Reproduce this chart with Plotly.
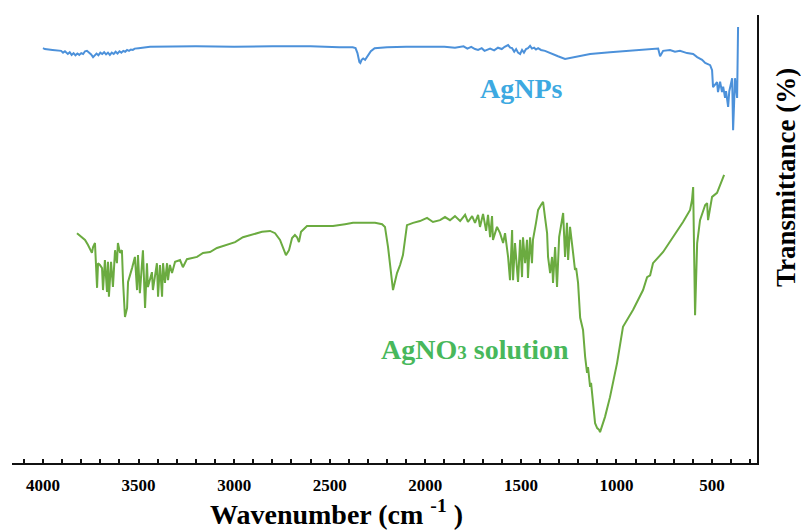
import plotly.graph_objects as go

# ---- AgNPs (blue) spectrum ----
agnp_wn = [4000, 3990, 3950, 3905, 3895, 3885, 3870, 3860, 3850, 3840, 3830, 3820, 3810, 3800,
           3790, 3780, 3770, 3760, 3748, 3738, 3730, 3720, 3710, 3700, 3690, 3680, 3670, 3660,
           3650, 3640, 3630, 3620, 3610, 3600, 3590, 3580, 3570, 3560, 3550, 3540, 3530, 3520,
           3500, 3470, 3440, 3200, 3000, 2800, 2600, 2450, 2380, 2365, 2355, 2345, 2340, 2333,
           2325, 2315, 2300, 2285, 2265, 2200, 2100, 2000, 1900, 1845, 1800, 1780, 1760, 1740,
           1724, 1705, 1690, 1661, 1640, 1620, 1600, 1585, 1567, 1556, 1546, 1535, 1525, 1515,
           1504, 1494, 1484, 1473, 1463, 1452, 1442, 1431, 1421, 1410, 1395, 1374, 1337, 1306,
           1269, 1217, 1138, 1034, 929, 824, 782, 772, 756, 720, 694, 668, 631, 599,
           578, 552, 536, 510, 500, 495, 484, 474, 469, 458, 448, 442, 432, 427,
           416, 410, 395, 390, 380, 369, 364]
agnp_t = [92.6, 92.4, 92.2, 92.0, 91.6, 91.9, 91.3, 91.7, 91.1, 91.5, 91.0, 91.4, 91.1, 91.5,
          91.3, 91.9, 92.0, 91.7, 91.2, 90.6, 91.0, 91.4, 91.0, 91.6, 91.3, 91.7, 91.2, 91.6,
          91.1, 91.6, 91.3, 91.8, 91.4, 91.9, 91.6, 92.0, 91.8, 92.2, 92.0, 92.3, 92.2, 92.5,
          92.6, 92.8, 92.9, 93.0, 92.9, 93.0, 93.0, 92.8, 92.8, 92.6, 91.5, 89.5, 89.3, 90.0,
          90.3, 90.0, 91.0, 91.9, 92.6, 92.8, 92.9, 92.9, 92.9, 92.7, 93.0, 92.5, 92.9, 92.4,
          92.2, 92.6, 92.0, 92.5, 92.1, 92.7, 92.4, 92.9, 93.3, 92.7, 92.6, 91.8, 92.4, 91.6,
          91.3, 92.2, 91.6, 92.4, 92.6, 93.1, 92.5, 92.7, 92.3, 92.6, 92.2, 92.0, 91.3, 90.8,
          90.2, 90.6, 91.3, 91.7, 92.0, 92.4, 92.5, 90.8, 92.0, 92.2, 91.8, 92.0, 91.5, 91.3,
          90.6, 90.0, 89.3, 88.8, 87.7, 83.9, 84.4, 85.0, 82.8, 85.1, 82.8, 84.0, 81.5, 83.0,
          79.5, 83.0, 85.9, 74.3, 85.9, 81.5, 97.3]

# ---- AgNO3 solution (green) spectrum ----
agno3_wn = [3822, 3806, 3780, 3765, 3744, 3738, 3728, 3717, 3712, 3702, 3691, 3686, 3676, 3665,
            3660, 3655, 3644, 3634, 3623, 3613, 3608, 3597, 3587, 3581, 3571, 3560, 3555, 3534,
            3519, 3508, 3503, 3493, 3477, 3466, 3456, 3451, 3430, 3425, 3404, 3398, 3388, 3377,
            3372, 3362, 3351, 3346, 3336, 3325, 3309, 3283, 3268, 3247, 3220, 3194, 3163, 3126,
            3090, 3037, 2995, 2954, 2901, 2854, 2812, 2786, 2760, 2744, 2729, 2713, 2697, 2682,
            2671, 2661, 2650, 2619, 2551, 2483, 2420, 2378, 2315, 2263, 2226, 2211, 2195, 2185,
            2169, 2148, 2132, 2117, 2096, 2064, 2028, 1991, 1960, 1923, 1897, 1871, 1845, 1818,
            1792, 1777, 1755, 1740, 1724, 1714, 1698, 1682, 1672, 1661, 1651, 1646, 1625, 1609,
            1593, 1583, 1567, 1557, 1546, 1541, 1531, 1515, 1504, 1494, 1489, 1478, 1468, 1463,
            1452, 1442, 1437, 1421, 1410, 1395, 1384, 1374, 1363, 1358, 1347, 1337, 1332, 1321,
            1311, 1300, 1290, 1279, 1269, 1259, 1253, 1243, 1227, 1217, 1211, 1201, 1190, 1175,
            1164, 1154, 1149, 1138, 1133, 1122, 1112, 1101, 1091, 1086, 1075, 1060, 1034, 997,
            966, 939, 913, 861, 840, 824, 809, 756, 704, 652, 615, 605, 599, 594,
            589, 578, 563, 536, 526, 521, 510, 500, 474, 458, 448, 437]
agno3_t = [51.3, 50.7, 49.8, 48.7, 46.9, 48.2, 49.1, 39.1, 44.6, 44.2, 43.5, 38.6, 45.3, 38.2,
           44.9, 37.1, 44.9, 39.3, 47.5, 44.6, 49.1, 46.9, 47.5, 40.4, 32.6, 34.6, 40.4, 43.5,
           46.0, 38.6, 46.4, 37.9, 47.5, 34.6, 44.6, 39.3, 42.6, 38.6, 44.6, 37.1, 44.2, 37.1,
           44.6, 40.2, 44.6, 40.8, 44.2, 42.4, 44.9, 45.3, 43.7, 45.5, 45.8, 46.0, 46.9, 47.1,
           48.0, 48.7, 49.3, 50.4, 51.1, 51.6, 51.8, 51.3, 49.8, 48.0, 46.4, 47.5, 50.2, 50.9,
           50.4, 49.3, 51.6, 52.9, 52.9, 52.9, 53.3, 53.6, 53.6, 53.6, 53.3, 52.7, 48.2, 44.6,
           38.6, 42.4, 44.2, 46.4, 53.1, 53.6, 54.0, 54.7, 53.8, 54.2, 54.9, 54.2, 55.1, 54.0,
           55.4, 53.8, 55.1, 53.6, 55.4, 52.7, 55.6, 51.8, 55.4, 50.4, 55.1, 49.8, 52.7, 51.3,
           49.1, 51.3, 46.0, 40.8, 52.0, 40.8, 49.1, 40.4, 49.8, 41.5, 50.4, 44.6, 49.8, 41.3,
           50.4, 44.6, 49.8, 53.6, 56.5, 57.6, 58.3, 54.9, 51.3, 46.0, 42.4, 46.0, 40.2, 48.2,
           39.3, 50.4, 52.7, 55.8, 46.0, 53.6, 45.3, 52.7, 46.9, 43.1, 43.5, 40.2, 32.4, 29.7,
           23.7, 20.1, 21.4, 17.0, 17.9, 13.4, 8.9, 7.8, 7.4, 6.9, 8.5, 10.3, 14.7, 22.3,
           30.4, 32.4, 34.2, 38.6, 41.5, 41.9, 44.6, 47.1, 50.4, 53.8, 56.5, 58.7, 61.6, 47.5,
           33.0, 49.1, 54.2, 57.6, 58.0, 54.2, 57.1, 59.4, 60.3, 62.0, 63.2, 64.3]

tick_vals = [4000, 3500, 3000, 2500, 2000, 1500, 1000, 500]
tick_text = [str(v) for v in tick_vals]

FONT = "Liberation Serif"

fig = go.Figure()
fig.add_trace(go.Scatter(x=agnp_wn, y=agnp_t, mode="lines", name="AgNPs",
                         line=dict(color="#4C91DA", width=2)))
fig.add_trace(go.Scatter(x=agno3_wn, y=agno3_t, mode="lines", name="AgNO3 solution",
                         line=dict(color="#6BAB40", width=2)))

fig.update_layout(
    width=801, height=532,
    margin=dict(l=12, r=44, t=15, b=69),
    paper_bgcolor="white", plot_bgcolor="white",
    showlegend=False,
    font=dict(family=FONT, color="black"),
    xaxis=dict(
        range=[4162, 265],
        showgrid=False, zeroline=False,
        showline=True, linecolor="#111", linewidth=2,
        ticks="inside", ticklen=4, tickwidth=1.5, tickcolor="#111",
        tickvals=tick_vals, ticktext=tick_text,
        tickfont=dict(family=FONT, size=17, color="black", weight="bold"),
        ticklabelstandoff=6,
        minor=dict(dtick=100, tick0=0, ticks="inside", ticklen=4, tickwidth=1.5, tickcolor="#111"),
    ),
    yaxis=dict(
        range=[0, 100], side="right",
        showgrid=False, zeroline=False,
        showline=True, linecolor="#111", linewidth=2,
        showticklabels=False, ticks="",
    ),
    annotations=[
        dict(text="Wavenumber (cm <sup>-1</sup> )", xref="paper", yref="paper",
             x=(336.5 - 12) / 745, y=-0.11, xanchor="center", yanchor="middle",
             showarrow=False, font=dict(family=FONT, size=28, color="black", weight="bold")),
        dict(text="Transmittance (%)", xref="paper", yref="paper",
             x=(786 - 12) / 745, y=(463 - 178) / 448, xanchor="center", yanchor="middle",
             textangle=-90, showarrow=False,
             font=dict(family=FONT, size=27, color="black", weight="bold")),
        dict(text="AgNPs", xref="x", yref="y", x=1499, y=83.5,
             xanchor="center", yanchor="middle", showarrow=False,
             font=dict(family=FONT, size=28, color="#3DA9E1", weight="bold")),
        dict(text='AgNO<span style="font-size:19px">3</span> solution', xref="x", yref="y",
             x=1740, y=25.3, xanchor="center", yanchor="middle", showarrow=False,
             font=dict(family=FONT, size=28, color="#48B85B", weight="bold")),
    ],
)

fig.write_html("out.html")
